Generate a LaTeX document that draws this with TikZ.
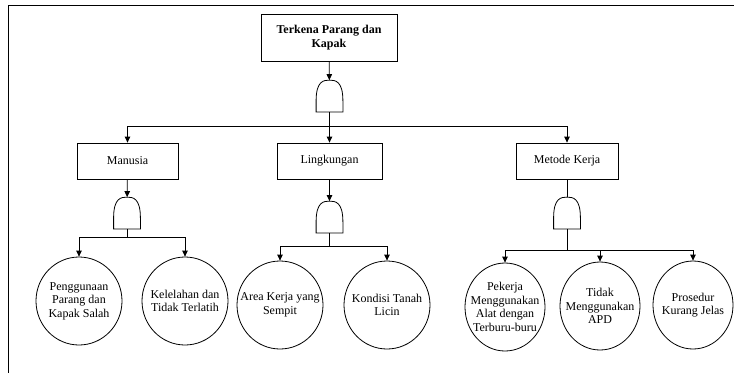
\documentclass[tikz,border=0pt]{standalone}
\usepackage{fontspec}
\setmainfont{Liberation Serif}
\usetikzlibrary{arrows.meta,shapes.geometric}

\begin{document}
\begin{tikzpicture}[x=1pt,y=-1pt,line width=0.8pt,
    evbox/.style={draw,rectangle,minimum height=36pt,inner sep=2pt,align=center},
    gate/.style={rectangle,minimum width=26pt,minimum height=31pt,inner sep=0pt},
    basic/.style={draw,ellipse,minimum width=86pt,minimum height=88pt,inner sep=0pt,
      label={[align=center,inner sep=0pt]center:{#1}}},
    arr/.style={-{Triangle[length=6pt,width=5.5pt]}}]
      \useasboundingbox (0,0) rectangle (734,373);
      \fontsize{12}{13.5}\selectfont
      \path[draw,line width=1.5pt] (734,5.5) -- (8.5,5.5) -- (8.5,373);
      % top event
      \node[evbox,font=\bfseries,minimum width=136pt,minimum height=47pt] (top) at (329,37.5) {Terkena Parang dan\\Kapak};
      \node[gate] (g0) at (329.5,96) {};
      \coordinate (j0) at (329.5,126);
      % causes
      \node[evbox,minimum width=101pt] (manusia) at (127.5,161) {Manusia};
      \node[evbox,minimum width=105pt] (lingkungan) at (329.5,161) {Lingkungan};
      \node[evbox,minimum width=102pt] (metode) at (567,161) {Metode Kerja};
      \node[gate] (g1) at (127,213) {};
      \node[gate] (g2) at (329.5,217) {};
      \node[gate] (g3) at (567,213) {};
      \coordinate (j1) at (127,237);
      \coordinate (j2) at (329.5,246);
      \coordinate (j3) at (567,250);
      % basic events
      \node[basic={Penggunaan\\Parang dan\\Kapak Salah}] (c11) at (79,301) {};
      \node[basic={Kelelahan dan\\Tidak Terlatih}] (c12) at (185,301) {};
      \node[basic={Area Kerja yang\\Sempit}] (c21) at (280,305) {};
      \node[basic={Kondisi Tanah\\Licin}] (c22) at (387,305) {};
      \node[basic={Pekerja\\Menggunakan\\Alat dengan\\Terburu-buru},minimum width=80pt] (c31) at (505,307) {};
      \node[basic={Tidak\\Menggunakan\\APD},minimum width=80pt] (c32) at (600,306) {};
      \node[basic={Prosedur\\Kurang Jelas},minimum width=80pt] (c33) at (693,305) {};
      % and gates
      \foreach \g in {g0,g1,g2,g3} {
        \path[draw] (\g.south west) -- (\g.south east) -- ([yshift=11pt]\g.south east)
          .. controls ([yshift=-1pt]\g.north east) and ([xshift=6pt]\g.north) .. (\g.north)
          .. controls ([xshift=-6pt]\g.north) and ([yshift=-1pt]\g.north west) .. ([yshift=11pt]\g.south west) -- cycle;
      }
      \path[draw,arr] (top) -- (g0);
      \path[draw] (g0) -- (j0);
      \foreach \b in {manusia,lingkungan,metode} {
        \path[draw,arr] (j0) -| (\b);
      }
      \path[draw,arr] (manusia) -- (g1);
      \path[draw,arr] (lingkungan) -- (g2);
      \path[draw] (metode) -- (g3);
      \path[draw] (g1) -- (j1) (g2) -- (j2) (g3) -- (j3);
      \foreach \c in {c11,c12} { \path[draw,arr] (j1) -| (\c); }
      \foreach \c in {c21,c22} { \path[draw,arr] (j2) -| (\c); }
      \foreach \c in {c31,c32,c33} { \path[draw,arr] (j3) -| (\c); }
    \end{tikzpicture}
\end{document}
